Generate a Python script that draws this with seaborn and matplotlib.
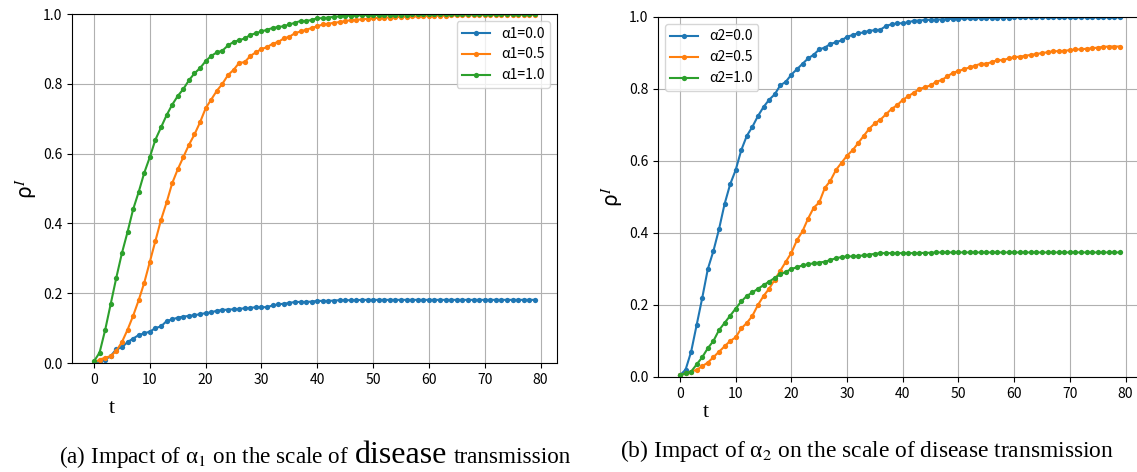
import numpy as np
import pandas as pd
import seaborn as sns
import matplotlib.pyplot as plt
from matplotlib.offsetbox import TextArea, HPacker, AnchoredOffsetbox

t = np.arange(80)

# panel (a): alpha_1
a1_00 = [0.0, 0.005, 0.01, 0.02, 0.04, 0.045, 0.06, 0.07, 0.08, 0.085,
         0.09, 0.10, 0.105, 0.12, 0.125, 0.13, 0.133, 0.135, 0.137, 0.14,
         0.143, 0.145, 0.15, 0.152, 0.153, 0.154, 0.155, 0.157, 0.158, 0.16,
         0.16, 0.16, 0.165, 0.168, 0.17, 0.172, 0.175, 0.175, 0.175, 0.176,
         0.178, 0.178, 0.178, 0.179, 0.18, 0.18, 0.18, 0.18, 0.181, 0.181,
         0.181, 0.181, 0.181, 0.181, 0.181, 0.181, 0.181, 0.181, 0.181, 0.181,
         0.181, 0.181, 0.181, 0.181, 0.181, 0.181, 0.181, 0.181, 0.181, 0.181,
         0.181, 0.181, 0.181, 0.181, 0.181, 0.181, 0.181, 0.181, 0.181, 0.181]
a1_05 = [0.0, 0.01, 0.015, 0.02, 0.035, 0.06, 0.095, 0.135, 0.18, 0.23,
         0.29, 0.35, 0.41, 0.46, 0.515, 0.555, 0.59, 0.625, 0.655, 0.69,
         0.73, 0.755, 0.78, 0.80, 0.825, 0.84, 0.86, 0.862, 0.88, 0.89,
         0.90, 0.905, 0.915, 0.92, 0.93, 0.935, 0.945, 0.95, 0.955, 0.96,
         0.965, 0.97, 0.972, 0.975, 0.977, 0.98, 0.982, 0.983, 0.985, 0.986,
         0.988, 0.989, 0.99, 0.99, 0.991, 0.992, 0.992, 0.993, 0.993, 0.994,
         0.994, 0.995, 0.995, 0.995, 0.996, 0.996, 0.996, 0.996, 0.997, 0.997,
         0.997, 0.997, 0.997, 0.998, 0.998, 0.998, 0.998, 0.998, 0.998, 0.998]
a1_10 = [0.005, 0.03, 0.095, 0.17, 0.245, 0.315, 0.375, 0.44, 0.49, 0.545,
         0.59, 0.64, 0.675, 0.71, 0.74, 0.765, 0.785, 0.81, 0.83, 0.845,
         0.865, 0.88, 0.89, 0.895, 0.91, 0.92, 0.925, 0.93, 0.94, 0.945,
         0.95, 0.955, 0.96, 0.963, 0.965, 0.97, 0.975, 0.98, 0.98, 0.983,
         0.988, 0.988, 0.99, 0.992, 0.993, 0.995, 0.995, 0.996, 0.996, 0.997,
         0.997, 0.997, 0.998, 0.998, 0.998, 0.998, 0.998, 0.999, 0.999, 0.999,
         0.999, 0.999, 0.999, 0.999, 0.999, 0.999, 0.999, 0.999, 0.999, 0.999,
         0.999, 0.999, 0.999, 0.999, 0.999, 0.999, 0.999, 0.999, 0.999, 0.999]

# panel (b): alpha_2
a2_00 = [0.005, 0.02, 0.07, 0.145, 0.22, 0.30, 0.35, 0.41, 0.48, 0.535,
         0.575, 0.63, 0.67, 0.695, 0.725, 0.75, 0.77, 0.785, 0.81, 0.82,
         0.84, 0.855, 0.87, 0.885, 0.895, 0.91, 0.915, 0.925, 0.93, 0.935,
         0.945, 0.95, 0.955, 0.957, 0.962, 0.963, 0.965, 0.975, 0.98, 0.982,
         0.983, 0.985, 0.99, 0.99, 0.992, 0.992, 0.993, 0.993, 0.994, 0.995,
         0.995, 0.996, 0.996, 0.997, 0.997, 0.997, 0.998, 0.998, 0.998, 0.998,
         0.999, 0.999, 0.999, 0.999, 0.999, 0.999, 0.999, 0.999, 0.999, 0.999,
         0.999, 0.999, 0.999, 0.999, 0.999, 0.999, 0.999, 0.999, 0.999, 0.999]
a2_05 = [0.005, 0.01, 0.015, 0.02, 0.03, 0.04, 0.055, 0.07, 0.085, 0.10,
         0.11, 0.135, 0.15, 0.17, 0.2, 0.225, 0.245, 0.27, 0.295, 0.32,
         0.345, 0.38, 0.405, 0.44, 0.47, 0.485, 0.525, 0.545, 0.575, 0.595,
         0.615, 0.63, 0.65, 0.67, 0.69, 0.705, 0.715, 0.73, 0.745, 0.755,
         0.77, 0.78, 0.79, 0.80, 0.805, 0.81, 0.82, 0.825, 0.835, 0.845,
         0.85, 0.855, 0.86, 0.865, 0.87, 0.87, 0.875, 0.88, 0.88, 0.885,
         0.888, 0.89, 0.892, 0.895, 0.897, 0.90, 0.902, 0.905, 0.905, 0.906,
         0.908, 0.91, 0.91, 0.912, 0.913, 0.915, 0.917, 0.918, 0.918, 0.918]
a2_10 = [0.005, 0.01, 0.015, 0.035, 0.055, 0.08, 0.10, 0.13, 0.15, 0.17,
         0.19, 0.21, 0.225, 0.235, 0.245, 0.255, 0.265, 0.275, 0.285, 0.292,
         0.30, 0.305, 0.31, 0.313, 0.316, 0.318, 0.32, 0.325, 0.33, 0.333,
         0.335, 0.335, 0.336, 0.338, 0.34, 0.342, 0.344, 0.344, 0.344, 0.344,
         0.344, 0.344, 0.344, 0.344, 0.345, 0.345, 0.346, 0.346, 0.346, 0.346,
         0.346, 0.346, 0.346, 0.346, 0.346, 0.346, 0.346, 0.346, 0.346, 0.346,
         0.346, 0.346, 0.346, 0.346, 0.346, 0.346, 0.346, 0.346, 0.346, 0.346,
         0.346, 0.346, 0.346, 0.346, 0.346, 0.346, 0.346, 0.346, 0.346, 0.346]

labels_a = ['α1=0.0', 'α1=0.5', 'α1=1.0']
labels_b = ['α2=0.0', 'α2=0.5', 'α2=1.0']

plt.rcParams['font.family'] = ['Noto Sans CJK SC', 'DejaVu Sans']
plt.rcParams['mathtext.fontset'] = 'stix'

def long_df(series, labels):
    parts = []
    for s, lab in zip(series, labels):
        parts.append(pd.DataFrame({'t': t, 'rho': s, 'label': lab}))
    return pd.concat(parts, ignore_index=True)

palette = sns.color_palette('tab10', 3)

fig = plt.figure(figsize=(11.37, 4.72), dpi=100)
ax1 = fig.add_axes([0.0633, 0.2309, 0.4266, 0.7394])
ax2 = fig.add_axes([0.5787, 0.2013, 0.4257, 0.7627])

panels = [
    (ax1, long_df([a1_00, a1_05, a1_10], labels_a), labels_a, 'upper right', 0.082, 9),
    (ax2, long_df([a2_00, a2_05, a2_10], labels_b), labels_b, 'upper left', 0.099, 2),
]

for ax, df, labs, loc, tx, pad in panels:
    sns.lineplot(data=df, x='t', y='rho', hue='label', palette=palette,
                 marker='o', markersize=3.8, markeredgewidth=0,
                 linewidth=1.5, legend=False, ax=ax)
    ax.set_ylim(0, 1.0)
    ax.set_xticks(range(0, 81, 10))
    ax.set_yticks(np.arange(0, 1.01, 0.2))
    ax.grid(True, color='#b0b0b0', linewidth=0.8)
    ax.set_axisbelow(True)
    ax.set_ylabel('ρ$^{I}$', fontsize=15, labelpad=2)
    ax.set_xlabel('t', fontsize=16, family='Liberation Serif', x=tx, labelpad=pad)
    ax.legend(ax.lines[:3], labs, loc=loc, fontsize=10)

def caption(parts, xy):
    boxes = []
    for txt, size in parts:
        boxes.append(TextArea(txt, textprops=dict(size=size, family='Liberation Serif')))
    pack = HPacker(children=boxes, align='baseline', pad=0, sep=4.5)
    box = AnchoredOffsetbox(loc='center', child=pack, pad=0, borderpad=0,
                            frameon=False, bbox_to_anchor=xy,
                            bbox_transform=fig.transFigure)
    fig.add_artist(box)

caption([('(a) Impact of α$_{\\mathrm{1}}$ on the scale of', 16.7),
         ('disease', 23), ('transmission', 16.7)], (0.277, 0.034))
caption([('(b) Impact of α$_{\\mathrm{2}}$ on the scale of disease transmission', 16.9)],
        (0.763, 0.044))

fig.savefig('out.png', dpi=100)
